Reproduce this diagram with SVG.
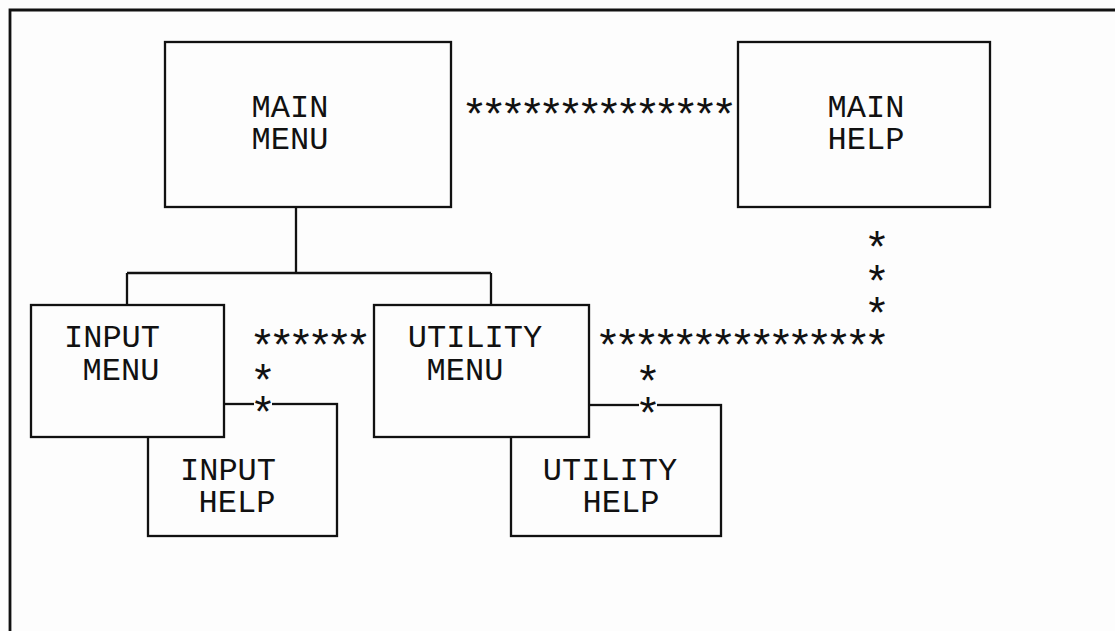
<svg xmlns="http://www.w3.org/2000/svg" width="1115" height="631" viewBox="0 0 1115 631">
<style>
.bg{fill:#fdfdfd}
.box{fill:#fdfdfd;stroke:#111;stroke-width:2.3}
.ln{fill:none;stroke:#111;stroke-width:2.3}
.frame{fill:none;stroke:#111;stroke-width:2.8}
.lbl{font-family:"Liberation Mono","DejaVu Sans Mono",monospace;font-size:32px;fill:#111;text-anchor:middle}
.ast{font-family:"Liberation Mono","DejaVu Sans Mono",monospace;font-size:44px;letter-spacing:-7.2px;fill:#111}
.astc{font-family:"Liberation Mono","DejaVu Sans Mono",monospace;font-size:44px;fill:#111;text-anchor:middle}
.gap{fill:#fdfdfd}
</style>
<rect class="bg" x="0" y="0" width="1115" height="631"/>
<path class="frame" d="M10,631 L10,10 L1115,10"/>
<g id="input-help">
<rect class="box" x="148" y="404" width="189" height="132"/>
<text class="lbl" x="228" y="480">INPUT</text>
<text class="lbl" x="237" y="512">HELP</text>
</g>
<g id="utility-help">
<rect class="box" x="511" y="405" width="210" height="131"/>
<text class="lbl" x="610" y="480">UTILITY</text>
<text class="lbl" x="621" y="512">HELP</text>
</g>
<g id="main-menu">
<rect class="box" x="165" y="42" width="286" height="165"/>
<text class="lbl" x="290" y="117">MAIN</text>
<text class="lbl" x="290" y="149">MENU</text>
</g>
<g id="main-help">
<rect class="box" x="738" y="42" width="252" height="165"/>
<text class="lbl" x="866" y="117">MAIN</text>
<text class="lbl" x="866" y="149">HELP</text>
</g>
<g id="input-menu">
<rect class="box" x="31" y="305" width="193" height="132"/>
<text class="lbl" x="112" y="347">INPUT</text>
<text class="lbl" x="121" y="380">MENU</text>
</g>
<g id="utility-menu">
<rect class="box" x="374" y="305" width="215" height="132"/>
<text class="lbl" x="475" y="347">UTILITY</text>
<text class="lbl" x="465" y="380">MENU</text>
</g>
<g id="connectors">
<path class="ln" d="M296,207 L296,273 M127,273 L491,273 M127,273 L127,305 M491,273 L491,305"/>
<text class="ast" x="461.3" y="130">**************</text>
<text class="astc"><tspan x="877" y="263">*</tspan><tspan x="877" y="297">*</tspan><tspan x="877" y="329">*</tspan></text>
<text class="ast" x="594.8" y="361">***************</text>
<text class="ast" x="249.3" y="361">******</text>
<rect class="gap" x="254" y="400" width="18" height="8"/>
<text class="astc"><tspan x="263" y="396">*</tspan><tspan x="263" y="428">*</tspan></text>
<rect class="gap" x="639" y="401" width="18" height="8"/>
<text class="astc"><tspan x="648" y="397">*</tspan><tspan x="648" y="429">*</tspan></text>
</g>
</svg>
